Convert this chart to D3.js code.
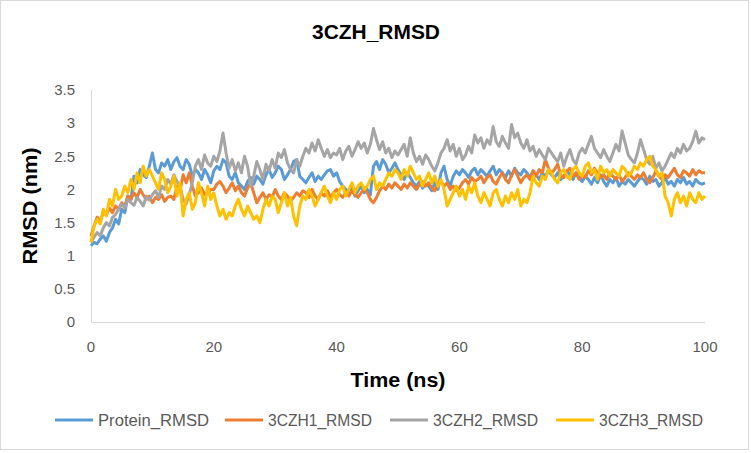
<!DOCTYPE html>
<meta charset="utf-8">
<style>

html, body {
  margin: 0;
  background: #fff;
}

svg {
  display: block;
  font-family: "Liberation Sans", Arial, sans-serif;
}

.tick-label {
  font-size: 15px;
  fill: #595959;
}

.axis-title {
  font-size: 20px;
  font-weight: bold;
  fill: #000;
}

.legend text {
  font-size: 16px;
  fill: #595959;
}

.series {
  fill: none;
  stroke-width: 3px;
  stroke-linejoin: round;
}

</style>
<svg class="chart"></svg>
<script src="https://cdn.jsdelivr.net/npm/d3@7"></script>
<script>

var width = 751;
var height = 453;

var xTicks = [0, 20, 40, 60, 80, 100];
var yTicks = [0, 0.5, 1, 1.5, 2, 2.5, 3, 3.5];

var seriesNames = ['Protein_RMSD', '3CZH1_RMSD', '3CZH2_RMSD', '3CZH3_RMSD'];
var seriesColors = ['#5b9bd5', '#ed7d31', '#a5a5a5', '#ffc000'];

// one sample every 0.5 ns, 0 to 100 ns
var timeNs = d3.range(0, 100.001, 0.5);

var proteinRmsd = [
  1.15,1.20,1.18,1.25,1.30,1.22,1.35,1.42,1.55,1.48,
  1.70,1.65,1.90,1.85,2.20,2.10,2.30,2.22,2.18,2.35,
  2.55,2.30,2.25,2.40,2.35,2.45,2.30,2.42,2.48,2.35,
  2.30,2.45,2.38,2.20,2.30,2.25,2.15,2.30,2.22,2.10,
  2.28,2.35,2.30,2.45,2.40,2.20,2.15,2.25,2.10,2.05,
  2.00,2.12,2.18,2.08,2.20,2.15,2.08,2.22,2.30,2.18,
  2.25,2.35,2.30,2.15,2.22,2.30,2.42,2.45,2.20,2.15,
  2.10,2.18,2.25,2.12,2.20,2.15,2.22,2.28,2.30,2.20,
  2.25,2.12,2.05,2.00,1.95,2.02,1.90,1.98,2.05,1.95,
  2.00,1.92,2.35,2.42,2.30,2.45,2.38,2.25,2.32,2.40,
  2.30,2.22,2.15,2.25,2.18,2.10,2.05,2.12,2.02,2.08,
  2.05,1.98,2.10,2.00,2.25,2.35,2.15,2.05,2.20,2.28,
  2.22,2.30,2.25,2.18,2.28,2.32,2.22,2.30,2.25,2.20,
  2.28,2.35,2.22,2.30,2.25,2.18,2.28,2.20,2.32,2.25,
  2.22,2.30,2.25,2.18,2.28,2.22,2.15,2.25,2.20,2.28,
  2.22,2.18,2.25,2.15,2.20,2.28,2.22,2.15,2.25,2.18,
  2.12,2.20,2.15,2.08,2.18,2.10,2.22,2.12,2.05,2.15,
  2.10,2.18,2.05,2.12,2.08,2.15,2.10,2.05,2.12,2.18,
  2.15,2.08,2.20,2.12,2.15,2.05,2.10,2.18,2.08,2.12,
  2.05,2.15,2.10,2.18,2.08,2.12,2.05,2.15,2.10,2.08,
  2.10
];

var czh1Rmsd = [
  1.30,1.45,1.58,1.52,1.65,1.62,1.72,1.65,1.75,1.70,
  1.80,1.75,1.90,1.85,1.95,1.88,2.00,1.92,1.85,1.90,
  1.80,1.88,1.85,1.92,1.82,1.88,1.90,1.85,2.05,1.98,
  2.22,2.10,2.25,2.05,1.90,1.95,2.02,1.92,1.95,2.00,
  2.00,2.08,2.12,2.05,1.95,2.02,2.10,1.98,2.05,1.95,
  1.90,2.02,2.10,1.95,1.80,1.88,1.95,1.85,1.92,1.88,
  2.00,1.90,1.85,1.95,1.90,1.82,1.88,1.95,1.90,1.98,
  1.95,1.88,2.00,1.90,1.85,1.95,1.90,1.98,1.88,1.95,
  2.00,1.92,1.88,1.95,1.90,1.98,1.92,1.88,1.95,2.00,
  1.95,1.85,1.80,1.88,1.98,2.05,2.00,2.08,2.02,2.10,
  2.05,2.00,2.08,2.02,2.10,2.05,2.00,2.08,2.12,2.05,
  2.10,2.02,1.98,2.08,2.12,2.05,2.10,2.00,2.05,1.98,
  2.02,2.10,2.15,2.08,2.18,2.12,2.15,2.20,2.10,2.18,
  2.22,2.12,2.08,2.18,2.25,2.15,2.10,2.22,2.30,2.20,
  2.10,2.18,2.22,2.15,2.28,2.20,2.30,2.25,2.45,2.32,
  2.25,2.30,2.38,2.22,2.18,2.28,2.32,2.20,2.25,2.15,
  2.22,2.18,2.28,2.22,2.32,2.25,2.18,2.22,2.15,2.25,
  2.20,2.15,2.22,2.12,2.18,2.25,2.20,2.15,2.22,2.18,
  2.25,2.15,2.10,2.18,2.28,2.20,2.15,2.22,2.18,2.25,
  2.32,2.22,2.18,2.28,2.25,2.20,2.30,2.22,2.28,2.25,
  2.25
];

var czh2Rmsd = [
  1.20,1.28,1.35,1.30,1.42,1.50,1.45,1.58,1.62,1.70,
  1.78,1.72,1.85,1.80,1.76,1.88,1.82,1.75,1.90,1.84,
  1.92,1.98,1.88,2.05,2.00,2.15,2.08,2.22,2.12,2.05,
  1.85,1.78,1.92,2.10,2.35,2.45,2.30,2.52,2.40,2.35,
  2.50,2.42,2.58,2.85,2.55,2.32,2.45,2.28,2.40,2.25,
  2.50,2.35,2.05,2.20,2.42,2.30,2.15,2.38,2.28,2.45,
  2.32,2.55,2.48,2.60,2.40,2.30,2.25,2.45,2.35,2.50,
  2.62,2.55,2.70,2.58,2.75,2.62,2.50,2.60,2.48,2.55,
  2.52,2.62,2.45,2.58,2.65,2.50,2.60,2.72,2.62,2.70,
  2.55,2.68,2.92,2.75,2.60,2.72,2.55,2.62,2.48,2.58,
  2.52,2.60,2.68,2.50,2.78,2.55,2.42,2.50,2.38,2.52,
  2.45,2.35,2.28,2.40,2.55,2.62,2.75,2.58,2.68,2.50,
  2.62,2.45,2.52,2.65,2.55,2.82,2.70,2.78,2.62,2.75,
  2.68,2.95,2.72,2.65,2.80,2.70,2.62,2.98,2.78,2.85,
  2.70,2.62,2.75,2.58,2.65,2.50,2.60,2.52,2.45,2.62,
  2.55,2.48,2.42,2.55,2.35,2.50,2.60,2.45,2.38,2.55,
  2.62,2.55,2.68,2.80,2.62,2.55,2.48,2.60,2.50,2.42,
  2.55,2.68,2.58,2.88,2.70,2.52,2.45,2.40,2.55,2.75,
  2.60,2.45,2.38,2.50,2.32,2.40,2.28,2.35,2.45,2.55,
  2.48,2.62,2.55,2.68,2.58,2.62,2.72,2.88,2.70,2.78,
  2.75
];

var czh3Rmsd = [
  1.20,1.45,1.55,1.48,1.70,1.60,1.85,1.75,2.00,1.85,
  1.90,2.05,1.95,2.15,2.00,2.25,2.10,2.35,2.20,2.30,
  2.20,2.10,2.00,2.25,2.15,1.95,2.05,2.20,1.90,2.10,
  1.60,1.85,1.95,1.70,1.80,2.10,1.95,1.75,2.05,1.85,
  1.95,1.75,1.60,1.70,1.55,1.65,1.60,1.75,1.85,1.70,
  1.60,1.75,1.65,1.55,1.60,1.50,1.70,1.85,1.75,1.90,
  1.85,1.65,1.80,1.95,1.75,1.88,1.60,1.45,1.75,1.90,
  1.85,2.00,1.90,1.75,1.85,1.95,2.05,1.90,1.80,1.95,
  1.85,2.00,2.05,1.90,2.00,2.10,1.95,2.05,2.10,2.00,
  2.05,2.15,2.20,2.00,2.10,2.05,2.15,2.25,2.20,2.30,
  2.25,2.15,2.30,2.20,2.35,2.25,2.15,2.20,2.05,2.15,
  2.25,2.10,2.20,2.05,2.15,2.00,1.75,1.85,1.95,2.05,
  1.90,2.00,1.85,2.05,1.95,2.10,1.90,1.80,1.95,1.85,
  1.75,1.95,2.00,1.85,1.75,1.90,1.80,1.95,1.85,2.00,
  1.75,1.85,1.80,1.95,2.20,2.10,2.05,2.20,2.15,2.30,
  2.25,2.15,2.10,2.25,2.30,2.20,2.15,2.30,2.35,2.25,
  2.20,2.35,2.40,2.25,2.30,2.15,2.35,2.25,2.30,2.20,
  2.30,2.25,2.20,2.35,2.30,2.20,2.25,2.35,2.30,2.40,
  2.35,2.45,2.50,2.35,2.30,2.20,2.25,1.90,1.80,1.60,
  1.85,1.95,1.80,1.90,1.75,1.95,1.85,1.80,1.95,1.85,
  1.90
];

var seriesValues = [proteinRmsd, czh1Rmsd, czh2Rmsd, czh3Rmsd];

var plot = {left: 91, right: 705, top: 90, bottom: 322};

var svg = d3.select('svg.chart')
  .attr('width', width)
  .attr('height', height);

svg.append('rect')
  .attr('x', 0.5)
  .attr('y', 0.5)
  .attr('width', width - 3)
  .attr('height', height - 4)
  .attr('fill', '#fff')
  .attr('stroke', '#d9d9d9');

var x = d3.scaleLinear()
  .domain([0, 100])
  .range([plot.left, plot.right]);

var y = d3.scaleLinear()
  .domain([0, 3.5])
  .range([plot.bottom, plot.top]);

// axis lines
svg.append('line')
  .attr('x1', plot.left + 0.5).attr('x2', plot.left + 0.5)
  .attr('y1', plot.top).attr('y2', plot.bottom)
  .attr('stroke', '#d9d9d9');

svg.append('line')
  .attr('x1', plot.left).attr('x2', plot.right)
  .attr('y1', plot.bottom + 0.5).attr('y2', plot.bottom + 0.5)
  .attr('stroke', '#d9d9d9');

svg.append('g').selectAll('text')
  .data(yTicks)
  .enter().append('text')
  .attr('class', 'tick-label')
  .attr('x', plot.left - 16)
  .attr('y', function (d) { return y(d); })
  .attr('dy', '0.35em')
  .attr('text-anchor', 'end')
  .text(function (d) { return d; });

svg.append('g').selectAll('text')
  .data(xTicks)
  .enter().append('text')
  .attr('class', 'tick-label')
  .attr('x', function (d) { return x(d); })
  .attr('y', 352)
  .attr('text-anchor', 'middle')
  .text(function (d) { return d; });

// series, drawn in Excel order so yellow ends up on top
var line = d3.line()
  .x(function (d, i) { return x(timeNs[i]); })
  .y(function (d) { return y(d); });

svg.append('g').selectAll('path')
  .data(seriesValues)
  .enter().append('path')
  .attr('class', 'series')
  .attr('stroke', function (d, i) { return seriesColors[i]; })
  .attr('d', line);

// titles
svg.append('text')
  .attr('class', 'axis-title')
  .attr('x', 376)
  .attr('y', 39)
  .attr('text-anchor', 'middle')
  .attr('textLength', 128)
  .attr('lengthAdjust', 'spacingAndGlyphs')
  .text('3CZH_RMSD');

svg.append('text')
  .attr('class', 'axis-title')
  .attr('x', 398)
  .attr('y', 387)
  .attr('text-anchor', 'middle')
  .attr('textLength', 95)
  .attr('lengthAdjust', 'spacingAndGlyphs')
  .text('Time (ns)');

svg.append('text')
  .attr('class', 'axis-title')
  .attr('transform', 'translate(37,206) rotate(-90)')
  .attr('text-anchor', 'middle')
  .attr('textLength', 117)
  .attr('lengthAdjust', 'spacingAndGlyphs')
  .text('RMSD (nm)');

// legend
var legendX = [55, 225, 390, 556];
var legendTextLen = [111, 104, 105, 104];

var legend = svg.append('g')
  .attr('class', 'legend')
  .selectAll('g')
  .data(seriesNames)
  .enter().append('g')
  .attr('transform', function (d, i) { return 'translate(' + legendX[i] + ',420)'; });

legend.append('line')
  .attr('x1', 0).attr('x2', 38)
  .attr('stroke', function (d, i) { return seriesColors[i]; })
  .attr('stroke-width', 3);

legend.append('text')
  .attr('x', 43)
  .attr('dy', '0.35em')
  .attr('textLength', function (d, i) { return legendTextLen[i]; })
  .attr('lengthAdjust', 'spacingAndGlyphs')
  .text(function (d) { return d; });

</script>
